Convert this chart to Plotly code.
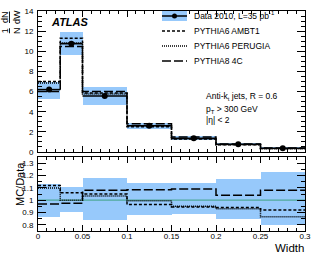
import plotly.graph_objects as go

# ---------------- data ----------------
edges = [0, 0.025, 0.05, 0.1, 0.15, 0.2, 0.25, 0.3]
centers = [0.0125, 0.0375, 0.075, 0.125, 0.175, 0.225, 0.275]
halfw = [0.0125, 0.0125, 0.025, 0.025, 0.025, 0.025, 0.025]

data = [6.2, 10.75, 5.55, 2.6, 1.37, 0.77, 0.38]
data_lo = [5.3, 9.6, 4.7, 2.3, 1.2, 0.65, 0.3]
data_hi = [7.0, 11.9, 6.5, 2.9, 1.55, 0.9, 0.47]

ambt1 = [7.0, 11.3, 5.85, 2.5, 1.3, 0.72, 0.35]
perugia = [6.85, 10.85, 5.75, 2.6, 1.3, 0.72, 0.33]
py8_4c = [6.0, 10.47, 6.0, 2.8, 1.5, 0.8, 0.41]

ratio_lo = [0.86, 0.90, 0.84, 0.88, 0.89, 0.845, 0.795]
ratio_hi = [1.13, 1.11, 1.18, 1.14, 1.14, 1.17, 1.23]
ambt1_r = [1.12, 1.06, 1.05, 0.965, 0.945, 0.94, 0.92]
perugia_r = [1.10, 1.00, 1.035, 0.995, 0.95, 0.93, 0.865]
py8_r = [0.97, 0.975, 1.08, 1.085, 1.09, 1.04, 1.08]
data_r = [1, 1, 1, 1, 1, 1, 1]

BAND = "#97c9fb"
FONT = "Liberation Sans, Arial, sans-serif"

fig = go.Figure()

def band(lo, hi, xa, ya):
    fig.add_trace(go.Bar(x=centers, base=lo, y=[h - l for l, h in zip(lo, hi)],
                         width=[2 * w for w in halfw], marker=dict(color=BAND, line=dict(width=0)),
                         xaxis=xa, yaxis=ya, showlegend=False, hoverinfo="skip"))

def step(vals, dash, xa, ya, color="black", width=1.5):
    fig.add_trace(go.Scatter(x=edges, y=vals + [vals[-1]], mode="lines", line_shape="hv",
                             line=dict(color=color, width=width, dash=dash),
                             xaxis=xa, yaxis=ya, showlegend=False, hoverinfo="skip"))

# top panel
band(data_lo, data_hi, "x", "y")
step(ambt1, "3px,2px", "x", "y")
step(perugia, "1px,1px", "x", "y")
step(py8_4c, "9px,3px", "x", "y")
fig.add_trace(go.Scatter(x=centers, y=data, mode="markers",
                         marker=dict(color="black", size=6),
                         error_x=dict(type="data", array=halfw, color="black", thickness=1.5, width=0),
                         xaxis="x", yaxis="y", showlegend=False))

# bottom panel
band(ratio_lo, ratio_hi, "x2", "y2")
step(data_r, "solid", "x2", "y2", color="#4fa89a", width=1.2)
step(ambt1_r, "3px,2px", "x2", "y2")
step(perugia_r, "1px,1px", "x2", "y2")
step(py8_r, "9px,3px", "x2", "y2")

axis_common = dict(showline=True, linecolor="black", linewidth=1, mirror="allticks",
                   ticks="inside", tickcolor="black", showgrid=False, zeroline=False,
                   automargin=False,
                   tickfont=dict(family=FONT, size=8, color="black"))

fig.update_layout(
    width=315, height=259,
    margin=dict(l=38, r=10, t=11, b=28, autoexpand=False),
    paper_bgcolor="white", plot_bgcolor="white",
    barmode="overlay", bargap=0, showlegend=False,
    xaxis=dict(domain=[0, 1], range=[0, 0.3], anchor="y", showticklabels=False,
               tickvals=[0, 0.05, 0.1, 0.15, 0.2, 0.25, 0.3], ticklen=6,
               minor=dict(dtick=0.01, ticks="inside", ticklen=3, tickcolor="black"),
               **axis_common),
    yaxis=dict(domain=[0.359, 1], range=[0, 14], anchor="x", dtick=2, ticklen=8,
               ticklabelstandoff=2,
               minor=dict(dtick=0.5, ticks="inside", ticklen=4, tickcolor="black"),
               **axis_common),
    xaxis2=dict(domain=[0, 1], range=[0, 0.3], anchor="y2",
                tickvals=[0, 0.05, 0.1, 0.15, 0.2, 0.25, 0.3],
                ticktext=["0", "0.05", "0.1", "0.15", "0.2", "0.25", "0.3"], ticklen=6,
                ticklabelstandoff=-3,
                minor=dict(dtick=0.01, ticks="inside", ticklen=3, tickcolor="black"),
                **axis_common),
    yaxis2=dict(domain=[0, 0.336], range=[0.75, 1.35], anchor="x2",
                tickvals=[0.8, 0.9, 1.0, 1.1, 1.2, 1.3],
                ticktext=["0.8", "0.9", "1", "1.1", "1.2", "1.3"], ticklen=8,
                ticklabelstandoff=2,
                minor=dict(dtick=0.05, ticks="inside", ticklen=4, tickcolor="black"),
                **axis_common),
)

def px_x(p):
    return (p - 38) / 267.0

def px_y(p):
    return (231 - p) / 220.0

ann = []
def text(x, y, s, size=8.5, xanchor="left", **kw):
    ann.append(dict(x=x, y=y, xref="paper", yref="paper", text=s, showarrow=False,
                    xanchor=xanchor, yanchor="middle",
                    font=dict(family=FONT, size=size, color="black"), **kw))

text(px_x(49), px_y(22), "<b><i>ATLAS</i></b>", size=11)
text(px_x(192), px_y(16), "Data 2010, L=35 pb<sup>-1</sup>")
text(px_x(192), px_y(31), "PYTHIA6 AMBT1")
text(px_x(192), px_y(46), "PYTHIA6 PERUGIA")
text(px_x(192), px_y(61), "PYTHIA8 4C")
text(px_x(204), px_y(97), "Anti-k<sub>t</sub> jets, R = 0.6")
text(px_x(204), px_y(109), "p<sub>T</sub> > 300 GeV")
text(px_x(204), px_y(120), "|η| < 2")
text(px_x(306), px_y(248), "Width", size=11.5, xanchor="right")
text(px_x(20), px_y(184), "MC/Data", size=11, xanchor="center", textangle=-90)
text(px_x(11), px_y(31), "<u>1</u><br>N", size=9, xanchor="center", textangle=-90)
text(px_x(11), px_y(17), "<u>dN</u><br>dW", size=9, xanchor="center", textangle=-90)
fig.update_layout(annotations=ann)

shapes = []
# legend: data box + line + marker
shapes.append(dict(type="rect", xref="paper", yref="paper", x0=px_x(162), x1=px_x(187),
                   y0=px_y(21), y1=px_y(11), fillcolor=BAND, line=dict(width=0)))
shapes.append(dict(type="line", xref="paper", yref="paper", x0=px_x(162), x1=px_x(187),
                   y0=px_y(16), y1=px_y(16), line=dict(color="black", width=1.5)))
shapes.append(dict(type="circle", xref="paper", yref="paper", x0=px_x(172), x1=px_x(177),
                   y0=px_y(18.5), y1=px_y(13.5), fillcolor="black", line=dict(width=0)))
for ypx, dash in [(31, "3px,2px"), (46, "1px,1px"), (61, "9px,3px")]:
    shapes.append(dict(type="line", xref="paper", yref="paper", x0=px_x(162), x1=px_x(187),
                       y0=px_y(ypx), y1=px_y(ypx), line=dict(color="black", width=1.5, dash=dash)))
fig.update_layout(shapes=shapes)

fig.write_html("out.html", config={"displayModeBar": False},
               post_script="document.body.style.margin='0px';document.body.style.padding='0px';")
